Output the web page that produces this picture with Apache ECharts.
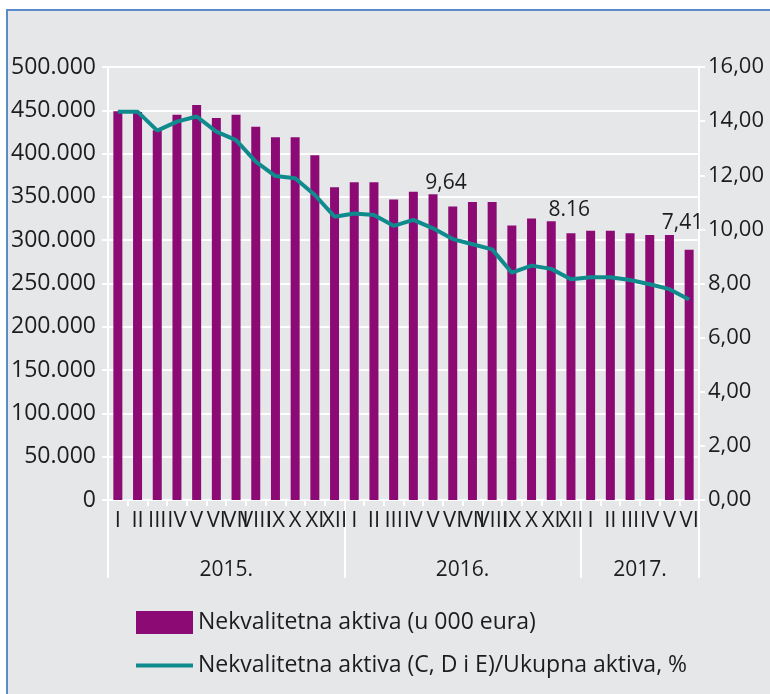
<!DOCTYPE html>
<html>
<head>
<meta charset="utf-8">
<script src="https://cdn.jsdelivr.net/npm/echarts@6/dist/echarts.min.js"></script>
<style>
  html, body { margin: 0; padding: 0; background: #fff; }
  #frame {
    position: absolute; left: 6px; top: 9px; width: 764px; height: 685px;
    background: #e6e7e9; border-left: 2px solid #5b8bc9; border-top: 2px solid #5b8bc9;
  }
  #main { position: absolute; left: 0; top: 0; width: 770px; height: 694px; }
</style>
</head>
<body>
<div id="frame"></div>
<div id="main"></div>
<script>
// mjeseci (rimski brojevi), sij 2015 - lip 2017
const months = ['I','II','III','IV','V','VI','VII','VIII','IX','X','XI','XII',
  'I','II','III','IV','V','VI','VII','VIII','IX','X','XI','XII',
  'I','II','III','IV','V','VI']
const years = ['2015.', '2016.', '2017.']
const yearBounds = [0, 12, 24, 30]
const yearCenters = [6, 18, 27]

// Nekvalitetna aktiva (u 000 eura)
const badAssets = [449000, 448000, 427000, 445000, 456000, 441000, 445000, 431000, 419000, 419000, 398000, 361000,
  367000, 367000, 347000, 356000, 353000, 339000, 344000, 344000, 317000, 325000, 322000, 308000,
  311000, 311000, 308000, 306000, 306000, 289000]

// Nekvalitetna aktiva (C, D i E)/Ukupna aktiva, %
const badShare = [14.35, 14.35, 13.65, 13.98, 14.17, 13.61, 13.30, 12.50, 11.97, 11.89, 11.27, 10.47,
  10.59, 10.53, 10.13, 10.35, 10.04, 9.64, 9.45, 9.26, 8.40, 8.66, 8.54, 8.16,
  8.23, 8.23, 8.13, 7.97, 7.79, 7.41]

// istaknute vrijednosti iznad stupaca
const noteIdx = [16, 22, 28]
const noteText = ['9,64', '8.16', '7,41']
const noteShift = [13, 18, 13]

const font = 'Open Sans'
const txt = '#1d1d1d'
const white = '#ffffff'
const purple = '#8c0a74'
const teal = '#0f8b8d'

const chart = echarts.init(document.getElementById('main'))

const barData = badAssets.map((v, i) => {
  const k = noteIdx.indexOf(i)
  if (k < 0) return v
  return {
    value: v,
    label: {
      show: true,
      position: 'top',
      distance: 1,
      offset: [noteShift[k], 0],
      formatter: noteText[k],
      color: txt,
      fontSize: 21,
      fontFamily: font
    }
  }
})

chart.setOption({
  backgroundColor: 'transparent',
  textStyle: { fontFamily: font },
  animation: false,
  grid: { left: 108, right: 71, top: 67, bottom: 194 },
  legend: {
    orient: 'vertical',
    left: 131,
    top: 606,
    itemWidth: 57,
    itemHeight: 23,
    itemGap: 20,
    textStyle: { color: txt, fontSize: 23, fontFamily: font },
    data: [
      { name: 'Nekvalitetna aktiva (u 000 eura)', icon: 'rect' },
      { name: 'Nekvalitetna aktiva (C, D i E)/Ukupna aktiva, %', icon: 'path://M0,0 L57,0 L57,4 L0,4 Z' }
    ]
  },
  xAxis: [{
    type: 'category',
    data: months,
    axisLine: { lineStyle: { color: white, width: 2 } },
    axisTick: { show: true, length: 6, lineStyle: { color: white, width: 2 } },
    axisLabel: { interval: 0, color: txt, fontSize: 22, margin: 10, hideOverlap: false }
  }, {
    type: 'value',
    position: 'bottom',
    min: 0,
    max: 30,
    splitLine: { show: false },
    axisLine: { show: false },
    axisTick: { show: true, length: 78, customValues: yearBounds, lineStyle: { color: white, width: 2 } },
    axisLabel: {
      customValues: yearCenters,
      color: txt, fontSize: 21, margin: 60,
      formatter: v => years[yearCenters.indexOf(v)]
    }
  }],
  yAxis: [{
    type: 'value',
    min: 0,
    max: 500000,
    interval: 50000,
    axisLine: { show: true, lineStyle: { color: white, width: 2 } },
    axisTick: { show: true, length: 6, lineStyle: { color: white, width: 2 } },
    splitLine: { lineStyle: { color: white, width: 2 } },
    axisLabel: {
      color: txt, fontSize: 23, margin: 12,
      formatter: v => v === 0 ? '0' : (v / 1000) + '.000'
    }
  }, {
    type: 'value',
    min: 0,
    max: 16,
    interval: 2,
    axisLine: { show: true, lineStyle: { color: white, width: 2 } },
    axisTick: { show: true, length: 6, lineStyle: { color: white, width: 2 } },
    splitLine: { show: false },
    axisLabel: {
      color: txt, fontSize: 22, margin: 9,
      formatter: v => v.toFixed(2).replace('.', ',')
    }
  }],
  series: [{
    type: 'bar',
    name: 'Nekvalitetna aktiva (u 000 eura)',
    barWidth: 9,
    itemStyle: { color: purple },
    data: barData
  }, {
    type: 'line',
    name: 'Nekvalitetna aktiva (C, D i E)/Ukupna aktiva, %',
    yAxisIndex: 1,
    symbol: 'none',
    lineStyle: { color: teal, width: 4 },
    itemStyle: { color: teal },
    data: badShare
  }]
})
</script>
</body>
</html>
